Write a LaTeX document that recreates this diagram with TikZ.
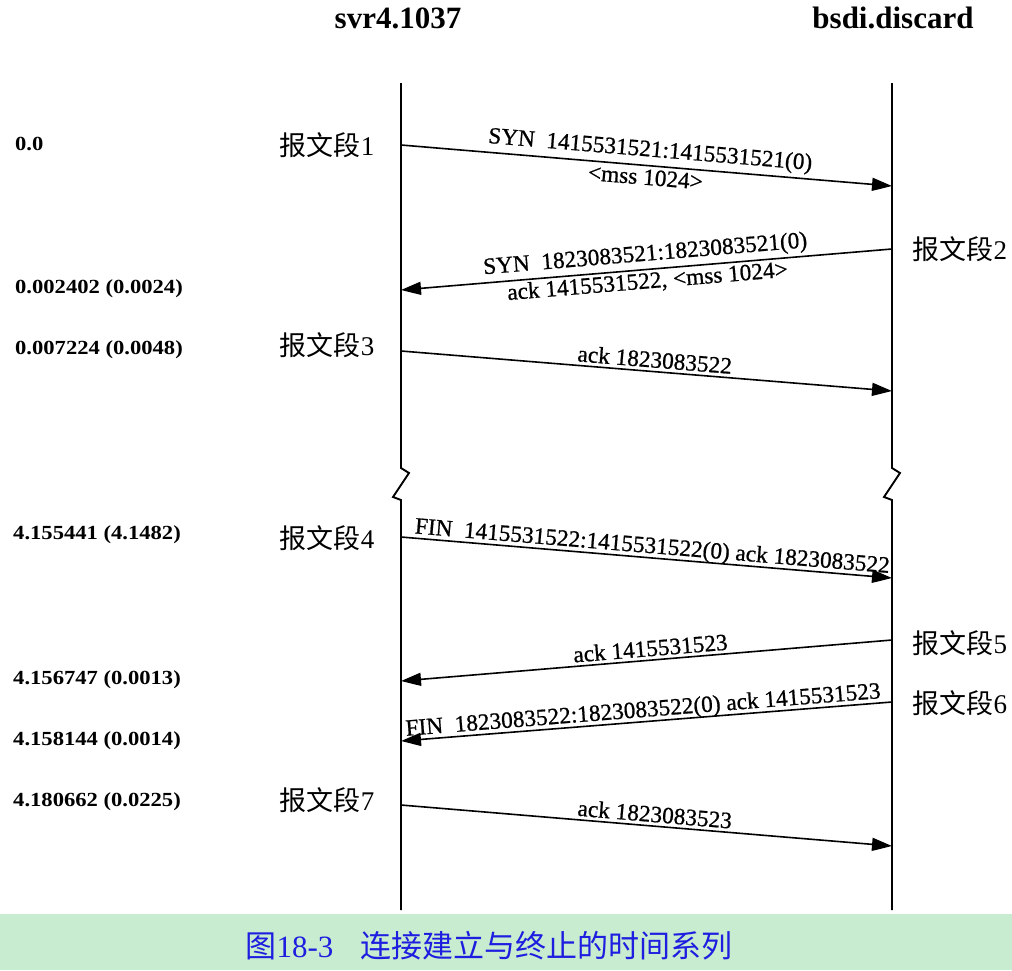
\documentclass[tikz,border=0pt]{standalone}
\usepackage{fontspec}
\setmainfont{Liberation Serif}
\newfontfamily\cjk{Noto Sans CJK SC}
\newfontfamily\timefont[FakeStretch=1.13]{Liberation Serif Bold}
\newfontfamily\lblfont[FakeBold=0.8]{Liberation Serif}
\usetikzlibrary{arrows.meta}
\definecolor{capbg}{HTML}{C8ECCF}
\definecolor{capfg}{HTML}{1E1EE0}
\begin{document}
\begin{tikzpicture}[x=1pt,y=-1pt,
  life/.style={line width=1.9pt},
  msgr/.style={line width=1.6pt,-{Triangle[length=20pt,width=13pt]}},
  msgl/.style={line width=1.6pt,{Triangle[length=20pt,width=13pt]}-},
  lbl/.style={font=\lblfont\fontsize{23.3}{25}\selectfont, sloped, inner sep=2pt},
  seg/.style={font=\fontsize{27}{29}\selectfont},
  tm/.style={font=\timefont\fontsize{20}{22}\selectfont, anchor=west, inner sep=0pt},
  hdr/.style={font=\bfseries\fontsize{31}{33}\selectfont}]
\useasboundingbox (0,0) rectangle (1012,970);
% caption bar
\fill[capbg] (0,914) rectangle (1012,970);
\node[font=\fontsize{31}{33}\selectfont, text=capfg] (cap) at (489,946) {{\cjk 图}18-3\hspace{27pt}{\cjk 连接建立与终止的时间系列}};
% headers
\node[hdr] (h1) at (398,18) {svr4.1037};
\node[hdr] (h2) at (893,18) {bsdi.discard};
% lifelines
\coordinate (Ltop) at (401,83); \coordinate (Lbot) at (401,910);
\coordinate (Rtop) at (892,83); \coordinate (Rbot) at (892,910);
\draw[life] (Ltop) -- (401,468) -- (409,473) -- (393,497) -- (401,500) -- (Lbot);
\draw[life] (Rtop) -- (892,468) -- (900,473) -- (884,497) -- (892,500) -- (Rbot);
% message endpoints
\coordinate (a1) at (401,145); \coordinate (b1) at (892,186);
\coordinate (a2) at (401,290); \coordinate (b2) at (892,249);
\coordinate (a3) at (401,351); \coordinate (b3) at (892,391);
\coordinate (a4) at (401,537); \coordinate (b4) at (892,578);
\coordinate (a5) at (401,681); \coordinate (b5) at (892,640);
\coordinate (a6) at (401,741); \coordinate (b6) at (892,702);
\coordinate (a7) at (401,805); \coordinate (b7) at (892,846);
% messages
\draw[msgr] (a1) -- (b1)
  node[lbl, pos=0.505, above=1.5pt] (m1) {SYN\ \ 1415531521:1415531521(0)}
  node[lbl, pos=0.50, below=1pt] (m1b) {<mss 1024>};
\draw[msgl] (a2) -- (b2)
  node[lbl, pos=0.50, above=1pt] (m2) {SYN\ \ 1823083521:1823083521(0)}
  node[lbl, pos=0.50, below=0pt] (m2b) {ack 1415531522, <mss 1024>};
\draw[msgr] (a3) -- (b3)
  node[lbl, pos=0.515, above=1pt] (m3) {ack 1823083522};
\draw[msgr] (a4) -- (b4)
  node[lbl, pos=0.51, above=-3pt] (m4) {FIN\ \ 1415531522:1415531522(0) ack 1823083522};
\draw[msgl] (a5) -- (b5)
  node[lbl, pos=0.51, above=1pt] (m5) {ack 1415531523};
\draw[msgl] (a6) -- (b6)
  node[lbl, pos=0.495, above=-3pt] (m6) {FIN\ \ 1823083522:1823083522(0) ack 1415531523};
\draw[msgr] (a7) -- (b7)
  node[lbl, pos=0.515, above=1pt] (m7) {ack 1823083523};
% segment labels
\node[seg, anchor=east] (s1) at (378,145) {{\cjk 报文段}1};
\node[seg, anchor=west] (s2) at (909,249) {{\cjk 报文段}2};
\node[seg, anchor=east] (s3) at (378,345) {{\cjk 报文段}3};
\node[seg, anchor=east] (s4) at (378,538) {{\cjk 报文段}4};
\node[seg, anchor=west] (s5) at (909,643) {{\cjk 报文段}5};
\node[seg, anchor=west] (s6) at (909,703) {{\cjk 报文段}6};
\node[seg, anchor=east] (s7) at (378,800) {{\cjk 报文段}7};
% time labels
\node[tm] (t1) at (15,144) {0.0};
\node[tm] (t2) at (15,289) {0.002402 (0.0024)};
\node[tm] (t3) at (15,350) {0.007224 (0.0048)};
\node[tm] (t4) at (13,535) {4.155441 (4.1482)};
\node[tm] (t5) at (13,680) {4.156747 (0.0013)};
\node[tm] (t6) at (13,741) {4.158144 (0.0014)};
\node[tm] (t7) at (13,802) {4.180662 (0.0225)};
\end{tikzpicture}
\end{document}
